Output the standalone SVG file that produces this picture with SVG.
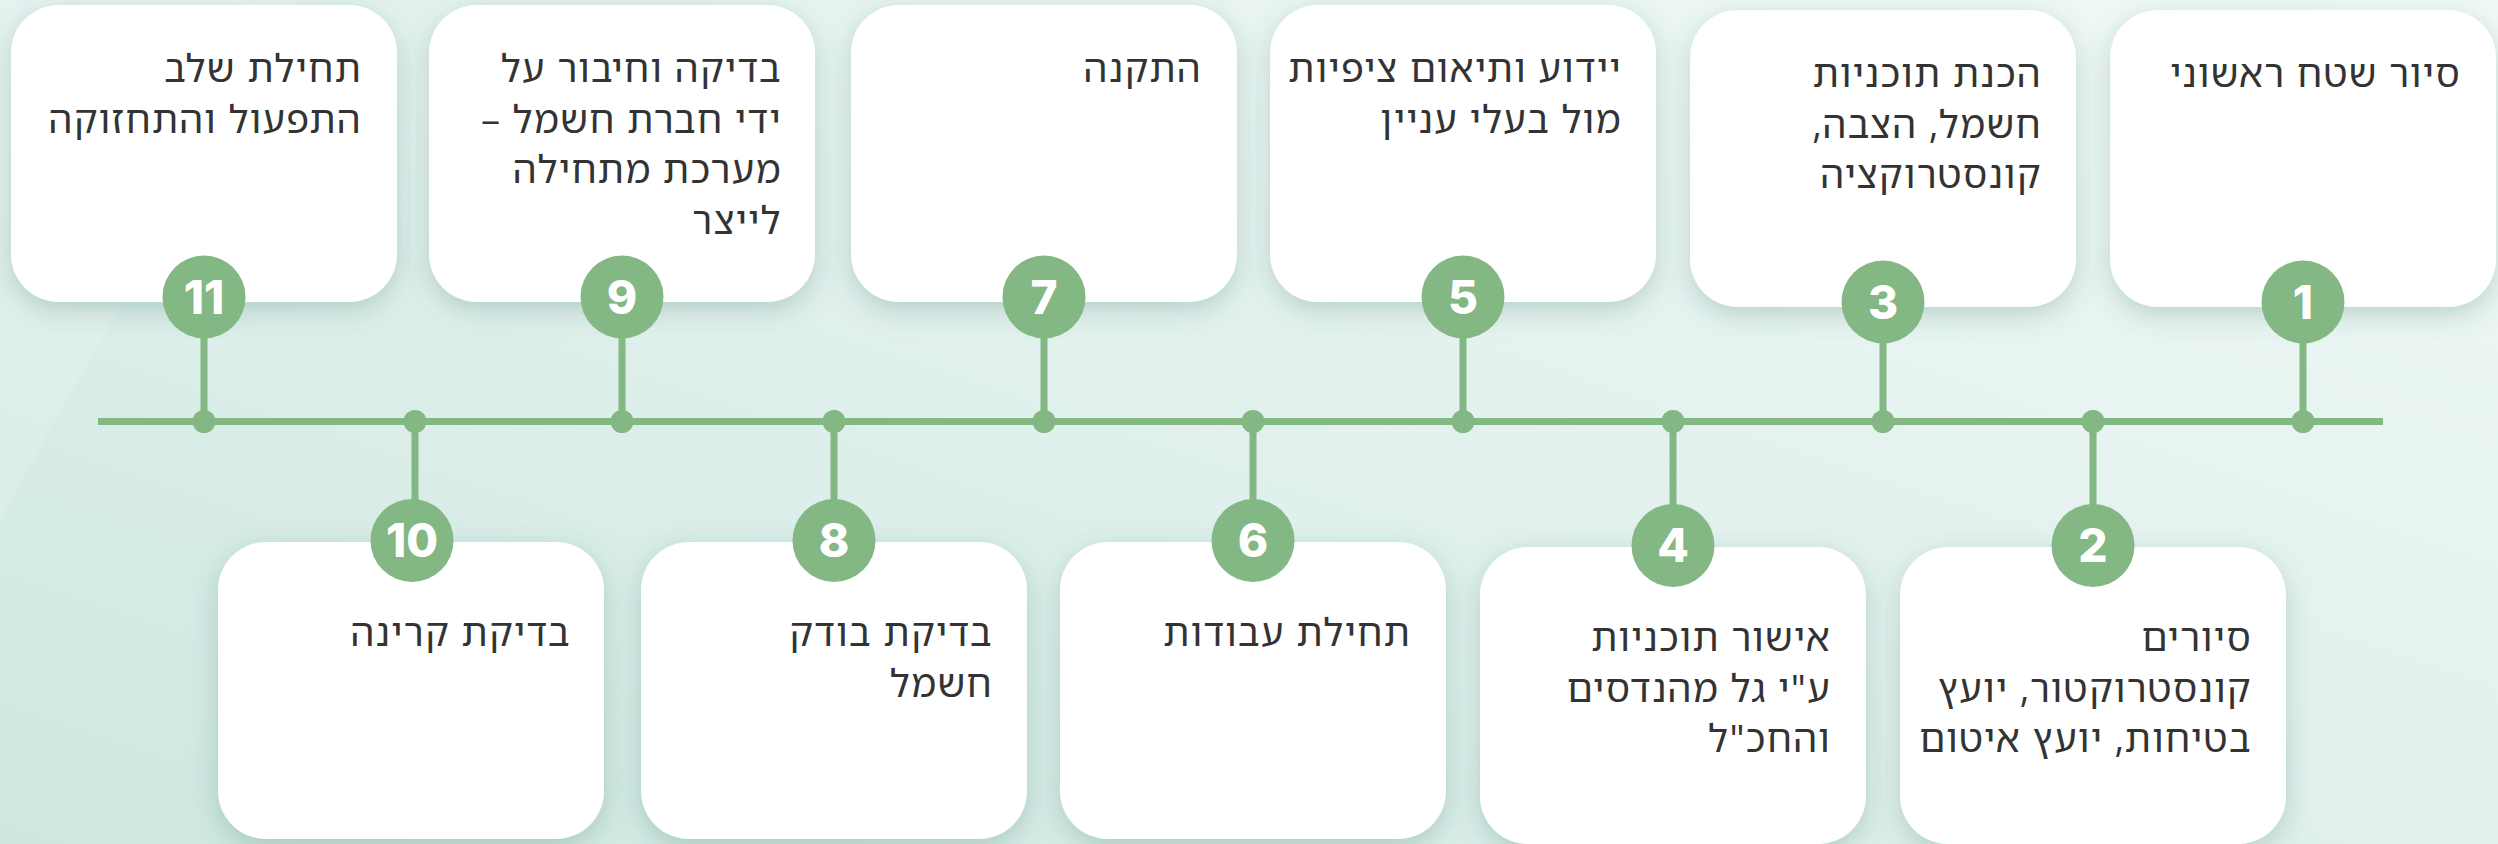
<svg xmlns="http://www.w3.org/2000/svg" width="2498" height="844" viewBox="0 0 2498 844">
  <defs>
    <linearGradient id="bg" x1="0" y1="1" x2="1" y2="0">
      <stop offset="0" stop-color="#cde7e0"/>
      <stop offset="0.45" stop-color="#e0f0ec"/>
      <stop offset="1" stop-color="#f1f9f7"/>
    </linearGradient>
    <filter id="shadow" x="-20%" y="-20%" width="140%" height="145%">
      <feDropShadow dx="0" dy="8" stdDeviation="13" flood-color="#2f6b5e" flood-opacity="0.25"/>
    </filter>
    <style>
      .box { fill: #ffffff; filter: url(#shadow); }
      .lbl { font-family: "Noto Sans Hebrew", "DejaVu Sans", "Open Sans", sans-serif; font-size: 38px; letter-spacing: 1.3px; fill: #333333; direction: rtl; unicode-bidi: embed; }
      .badge { fill: #83b783; }
      .num { font-family: Inter, "Liberation Sans", sans-serif; font-weight: 800; font-size: 46px; fill: #ffffff; text-anchor: middle; }
      .line { stroke: #83b783; stroke-width: 7; fill: none; }
      .dot { fill: #83b783; }
    </style>
  </defs>

  <rect x="0" y="0" width="2498" height="844" fill="url(#bg)"/>
  <path d="M0,0 L300,0 Q150,250 0,520 Z" fill="#ffffff" fill-opacity="0.16"/>

  <g id="connectors">
    <line class="line" x1="98" y1="421.5" x2="2383" y2="421.5"/>
    <line class="line" x1="204" y1="297" x2="204" y2="421.5"/>
    <line class="line" x1="415" y1="421.5" x2="415" y2="540.5"/>
    <line class="line" x1="622" y1="297" x2="622" y2="421.5"/>
    <line class="line" x1="834" y1="421.5" x2="834" y2="540.5"/>
    <line class="line" x1="1044" y1="297" x2="1044" y2="421.5"/>
    <line class="line" x1="1253" y1="421.5" x2="1253" y2="540.5"/>
    <line class="line" x1="1463" y1="297" x2="1463" y2="421.5"/>
    <line class="line" x1="1673" y1="421.5" x2="1673" y2="545.5"/>
    <line class="line" x1="1883" y1="302" x2="1883" y2="421.5"/>
    <line class="line" x1="2093" y1="421.5" x2="2093" y2="545.5"/>
    <line class="line" x1="2303" y1="302" x2="2303" y2="421.5"/>
    <circle class="dot" cx="204" cy="421.5" r="11.5"/>
    <circle class="dot" cx="415" cy="421.5" r="11.5"/>
    <circle class="dot" cx="622" cy="421.5" r="11.5"/>
    <circle class="dot" cx="834" cy="421.5" r="11.5"/>
    <circle class="dot" cx="1044" cy="421.5" r="11.5"/>
    <circle class="dot" cx="1253" cy="421.5" r="11.5"/>
    <circle class="dot" cx="1463" cy="421.5" r="11.5"/>
    <circle class="dot" cx="1673" cy="421.5" r="11.5"/>
    <circle class="dot" cx="1883" cy="421.5" r="11.5"/>
    <circle class="dot" cx="2093" cy="421.5" r="11.5"/>
    <circle class="dot" cx="2303" cy="421.5" r="11.5"/>
  </g>

  <g id="step1">
    <rect class="box" x="2110" y="10" width="386" height="297" rx="48"/>
    <text class="lbl" x="2461" y="87" text-anchor="start">סיור שטח ראשוני</text>
    <circle class="badge" cx="2303" cy="302" r="41.5"/>
    <text class="num" x="2303" y="318.5">1</text>
  </g>

  <g id="step2">
    <rect class="box" x="1900" y="547" width="386" height="297" rx="48"/>
    <text class="lbl" x="2252" y="651" text-anchor="start">
      <tspan x="2252" y="651">סיורים</tspan>
      <tspan x="2252" y="701.5">קונסטרוקטור, יועץ</tspan>
      <tspan x="2252" y="752">בטיחות, יועץ איטום</tspan>
    </text>
    <circle class="badge" cx="2093" cy="545.5" r="41.5"/>
    <text class="num" x="2093" y="562">2</text>
  </g>

  <g id="step3">
    <rect class="box" x="1690" y="10" width="386" height="297" rx="48"/>
    <text class="lbl" x="2042" y="87" text-anchor="start">
      <tspan x="2042" y="87">הכנת תוכניות</tspan>
      <tspan x="2042" y="137.5">חשמל, הצבה,</tspan>
      <tspan x="2042" y="188">קונסטרוקציה</tspan>
    </text>
    <circle class="badge" cx="1883" cy="302" r="41.5"/>
    <text class="num" x="1883" y="318.5">3</text>
  </g>

  <g id="step4">
    <rect class="box" x="1480" y="547" width="386" height="297" rx="48"/>
    <text class="lbl" x="1831" y="651" text-anchor="start">
      <tspan x="1831" y="651">אישור תוכניות</tspan>
      <tspan x="1831" y="701.5">ע"י גל מהנדסים</tspan>
      <tspan x="1831" y="752">והחכ"ל</tspan>
    </text>
    <circle class="badge" cx="1673" cy="545.5" r="41.5"/>
    <text class="num" x="1673" y="562">4</text>
  </g>

  <g id="step5">
    <rect class="box" x="1270" y="5" width="386" height="297" rx="48"/>
    <text class="lbl" x="1622" y="82" text-anchor="start">
      <tspan x="1622" y="82">יידוע ותיאום ציפיות</tspan>
      <tspan x="1622" y="132.5">מול בעלי עניין</tspan>
    </text>
    <circle class="badge" cx="1463" cy="297" r="41.5"/>
    <text class="num" x="1463" y="313.5">5</text>
  </g>

  <g id="step6">
    <rect class="box" x="1060" y="542" width="386" height="297" rx="48"/>
    <text class="lbl" x="1411" y="646" text-anchor="start">תחילת עבודות</text>
    <circle class="badge" cx="1253" cy="540.5" r="41.5"/>
    <text class="num" x="1253" y="557">6</text>
  </g>

  <g id="step7">
    <rect class="box" x="851" y="5" width="386" height="297" rx="48"/>
    <text class="lbl" x="1202" y="82" text-anchor="start">התקנה</text>
    <circle class="badge" cx="1044" cy="297" r="41.5"/>
    <text class="num" x="1044" y="313.5">7</text>
  </g>

  <g id="step8">
    <rect class="box" x="641" y="542" width="386" height="297" rx="48"/>
    <text class="lbl" x="993" y="646" text-anchor="start">
      <tspan x="993" y="646">בדיקת בודק</tspan>
      <tspan x="993" y="696.5">חשמל</tspan>
    </text>
    <circle class="badge" cx="834" cy="540.5" r="41.5"/>
    <text class="num" x="834" y="557">8</text>
  </g>

  <g id="step9">
    <rect class="box" x="429" y="5" width="386" height="297" rx="48"/>
    <text class="lbl" x="782" y="82" text-anchor="start">
      <tspan x="782" y="82">בדיקה וחיבור על</tspan>
      <tspan x="782" y="132.5">ידי חברת חשמל –</tspan>
      <tspan x="782" y="183">מערכת מתחילה</tspan>
      <tspan x="782" y="233.5">לייצר</tspan>
    </text>
    <circle class="badge" cx="622" cy="297" r="41.5"/>
    <text class="num" x="622" y="313.5">9</text>
  </g>

  <g id="step10">
    <rect class="box" x="218" y="542" width="386" height="297" rx="48"/>
    <text class="lbl" x="571" y="646" text-anchor="start">בדיקת קרינה</text>
    <circle class="badge" cx="412" cy="540.5" r="41.5"/>
    <text class="num" x="412" y="557">10</text>
  </g>

  <g id="step11">
    <rect class="box" x="11" y="5" width="386" height="297" rx="48"/>
    <text class="lbl" x="362" y="82" text-anchor="start">
      <tspan x="362" y="82">תחילת שלב</tspan>
      <tspan x="362" y="132.5">התפעול והתחזוקה</tspan>
    </text>
    <circle class="badge" cx="204" cy="297" r="41.5"/>
    <text class="num" x="204" y="313.5">11</text>
  </g>
</svg>
